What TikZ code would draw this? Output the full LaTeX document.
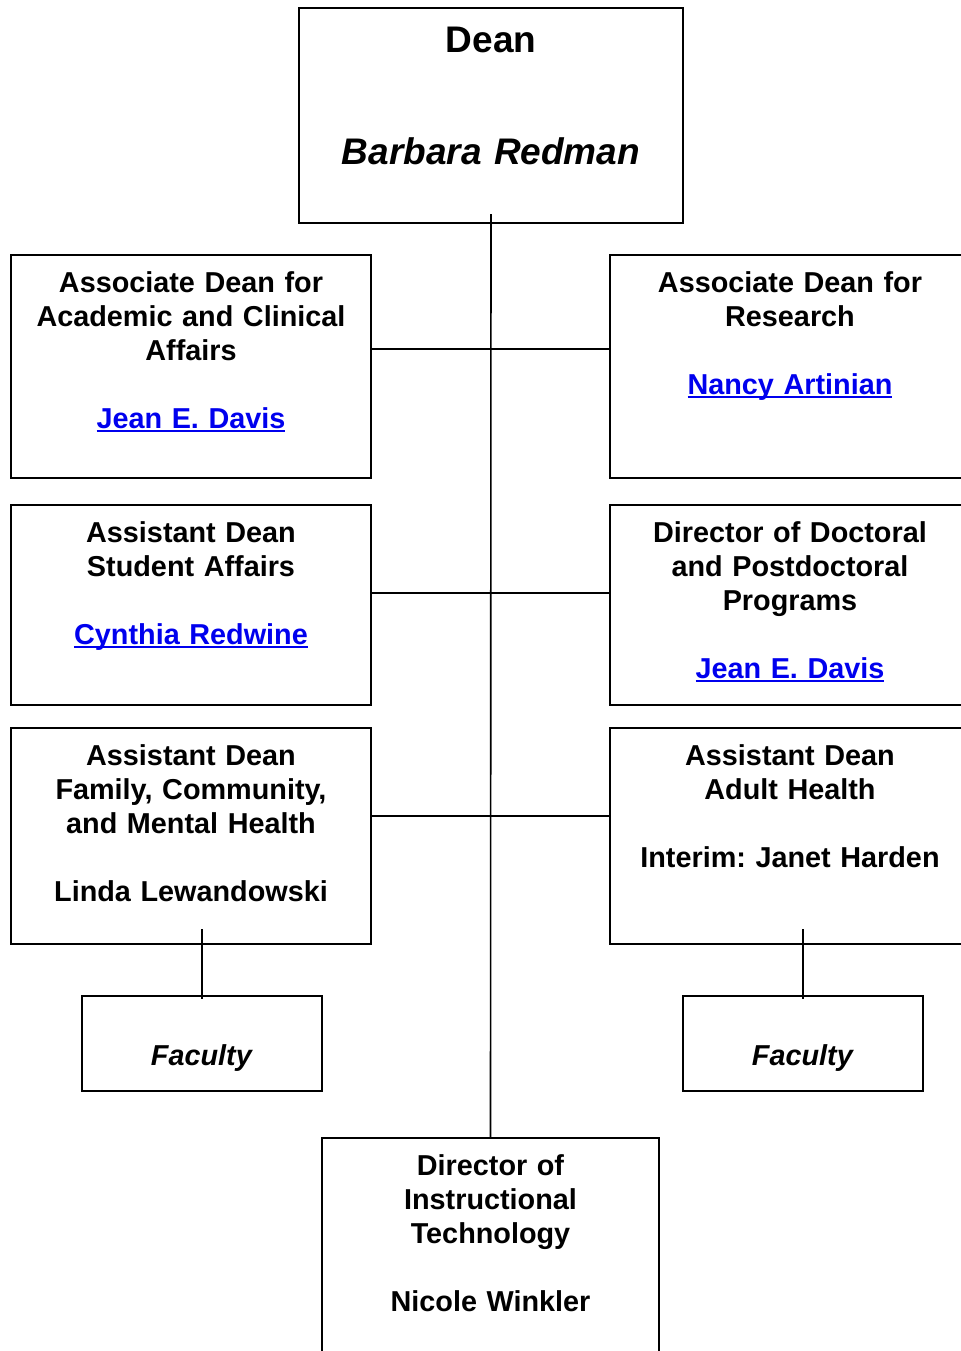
\documentclass[tikz,border=0pt]{standalone}
\usepackage{fontspec}
\setmainfont{Liberation Sans}
\usepackage{xcolor}
\usepackage{tikz}
\frenchspacing

\definecolor{linkblue}{RGB}{0,0,238}
\newcommand{\weblink}[1]{\leavevmode{\color{linkblue}\setbox0\hbox{#1}\rlap{\rule[-2pt]{\wd0}{0.8pt}}\box0}}

\tikzset{
  orgbox/.style={draw=black, line width=1pt, rectangle, inner sep=0pt},
  boxtext/.style={anchor=base, align=center, text width=178pt, inner sep=0pt,
    font=\bfseries\fontsize{14.4}{17}\selectfont},
  link/.style={line width=0.8pt}
}

\begin{document}
\begin{tikzpicture}[x=0.5pt,y=-0.5pt]
    \clip (0,0) rectangle (961,1351);
    % boxes
    \node[orgbox, minimum width=192pt, minimum height=107.5pt] (dean) at (491,115.5) {};
    \node[orgbox, minimum width=180pt, minimum height=111.5pt] (acad) at (191,366.5) {};
    \node[orgbox, minimum width=180pt, minimum height=111.5pt] (research) at (790,366.5) {};
    \node[orgbox, minimum width=180pt, minimum height=100pt] (stud) at (191,605) {};
    \node[orgbox, minimum width=180pt, minimum height=100pt] (doct) at (790,605) {};
    \node[orgbox, minimum width=180pt, minimum height=108pt] (fcmh) at (191,836) {};
    \node[orgbox, minimum width=180pt, minimum height=108pt] (adult) at (790,836) {};
    \node[orgbox, minimum width=120pt, minimum height=47.5pt] (facl) at (202,1043.5) {};
    \node[orgbox, minimum width=120pt, minimum height=47.5pt] (facr) at (803,1043.5) {};
    \node[orgbox, minimum width=168.5pt, minimum height=126pt] (itech) at (490.5,1264) {};
    % texts
    \node[boxtext, font=\bfseries\fontsize{18.5}{28}\selectfont] (deantxt) at ([yshift=-22.5pt]dean.north)
        {Dean\\[28pt]\textit{Barbara Redman}};
    \node[boxtext] (acadtxt) at ([yshift=-19pt]acad.north)
        {Associate Dean for\\Academic and Clinical\\Affairs\\[17pt]\weblink{Jean E. Davis}};
    \node[boxtext] (researchtxt) at ([yshift=-19pt]research.north)
        {Associate Dean for\\Research\\[17pt]\weblink{Nancy Artinian}};
    \node[boxtext] (studtxt) at ([yshift=-19pt]stud.north)
        {Assistant Dean\\Student Affairs\\[17pt]\weblink{Cynthia Redwine}};
    \node[boxtext] (docttxt) at ([yshift=-19pt]doct.north)
        {Director of Doctoral\\and Postdoctoral\\Programs\\[17pt]\weblink{Jean E. Davis}};
    \node[boxtext] (fcmhtxt) at ([yshift=-19pt]fcmh.north)
        {Assistant Dean\\Family, Community,\\and Mental Health\\[17pt]Linda Lewandowski};
    \node[boxtext] (adulttxt) at ([yshift=-19pt]adult.north)
        {Assistant Dean\\Adult Health\\[17pt]Interim: Janet Harden};
    \node[boxtext] (facltxt) at ([yshift=-35pt]facl.north) {\textit{Faculty}};
    \node[boxtext] (facrtxt) at ([yshift=-35pt]facr.north) {\textit{Faculty}};
    \node[boxtext] (itechtxt) at ([yshift=-19pt]itech.north)
        {Director of\\Instructional\\Technology\\[17pt]Nicole Winkler};
    % connectors
    \draw[link] ([yshift=5pt]dean.south) -- (itech.north);
    \draw[link] ([yshift=8.75pt]acad.east) -- ([yshift=8.75pt]research.west);
    \draw[link] ([yshift=6pt]stud.east) -- ([yshift=6pt]doct.west);
    \draw[link] ([yshift=10pt]fcmh.east) -- ([yshift=10pt]adult.west);
    \draw[link] ([yshift=8pt]fcmh.south -| facl.north) -- ([yshift=-2pt]facl.north);
    \draw[link] ([yshift=8pt]adult.south -| facr.north) -- ([yshift=-2pt]facr.north);
\end{tikzpicture}
\end{document}
